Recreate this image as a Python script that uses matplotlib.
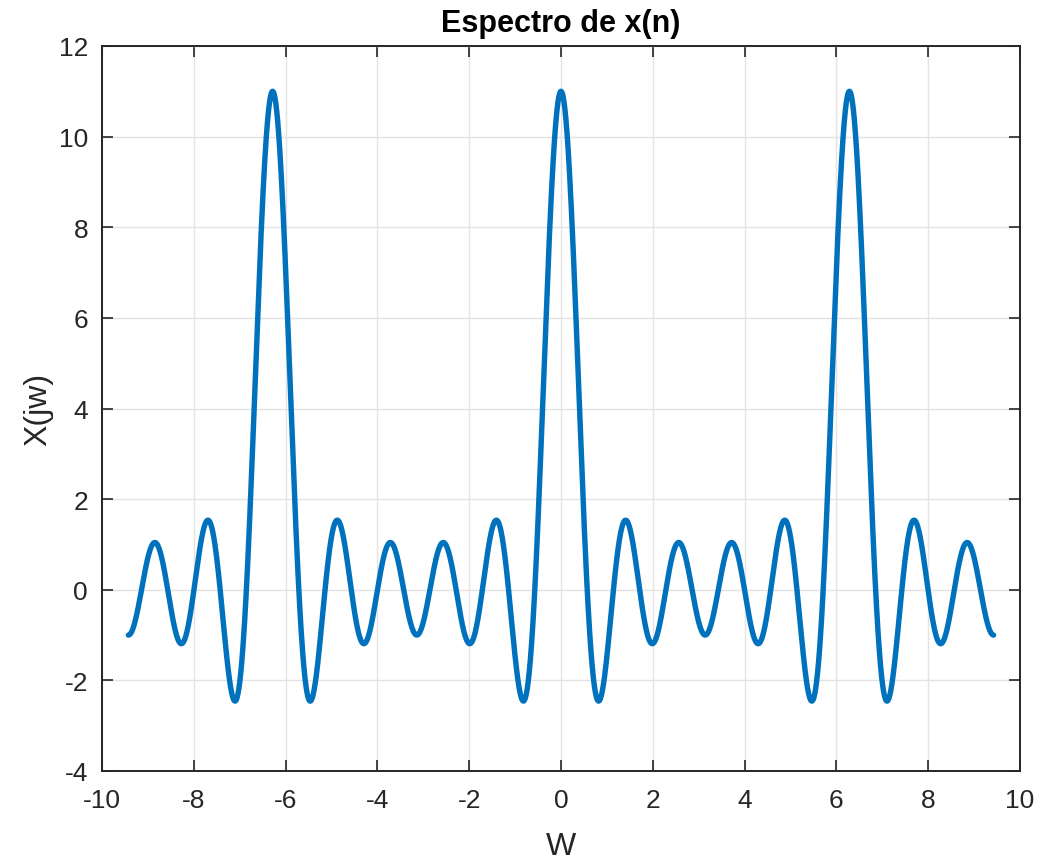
import matplotlib
matplotlib.use('Agg')
import matplotlib.pyplot as plt
import numpy as np

# signal x(n): rectangular pulse, n = -5..5 (peak of the spectrum = 11)
n = np.arange(-5, 6)
xn = np.ones(11)

# frequency axis, -3*pi .. 3*pi
W = np.linspace(-3 * np.pi, 3 * np.pi, 3001)
# DTFT of x(n)
X = np.real(np.exp(-1j * np.outer(W, n)) @ xn)

xticks = np.arange(-10, 11, 2)
yticks = np.arange(-4, 13, 2)

plt.rcParams['font.family'] = ['Liberation Sans', 'DejaVu Sans']
plt.rcParams['axes.unicode_minus'] = False
txt = '#262626'

fig = plt.figure(figsize=(10.4, 8.62), dpi=100)
ax = fig.add_axes([102 / 1040, 1 - 772 / 862, (1020 - 102) / 1040, (772 - 47) / 862])
ax.plot(W, X, color='#0072BD', linewidth=3.9, solid_capstyle='round')
ax.set_xlim(-10, 10)
ax.set_ylim(-4, 12)
ax.set_xticks(xticks)
ax.set_yticks(yticks)
ax.grid(True, color='#e3e3e3', linewidth=1.0)
ax.set_axisbelow(True)
ax.tick_params(direction='in', length=8, width=1.2, labelsize=19, colors=txt,
               top=True, right=True)
ax.tick_params(axis='x', pad=12)
ax.tick_params(axis='y', pad=10)
for s in ax.spines.values():
    s.set_linewidth(1.4)
    s.set_color(txt)
ax.set_xlabel('W', fontsize=23, color=txt, labelpad=14)
ax.set_ylabel('X(jw)', fontsize=23, color=txt, labelpad=4)
ax.set_title('Espectro de x(n)', fontsize=22, fontweight='bold', color='black', pad=11)

plt.savefig('out.png', dpi=100)
